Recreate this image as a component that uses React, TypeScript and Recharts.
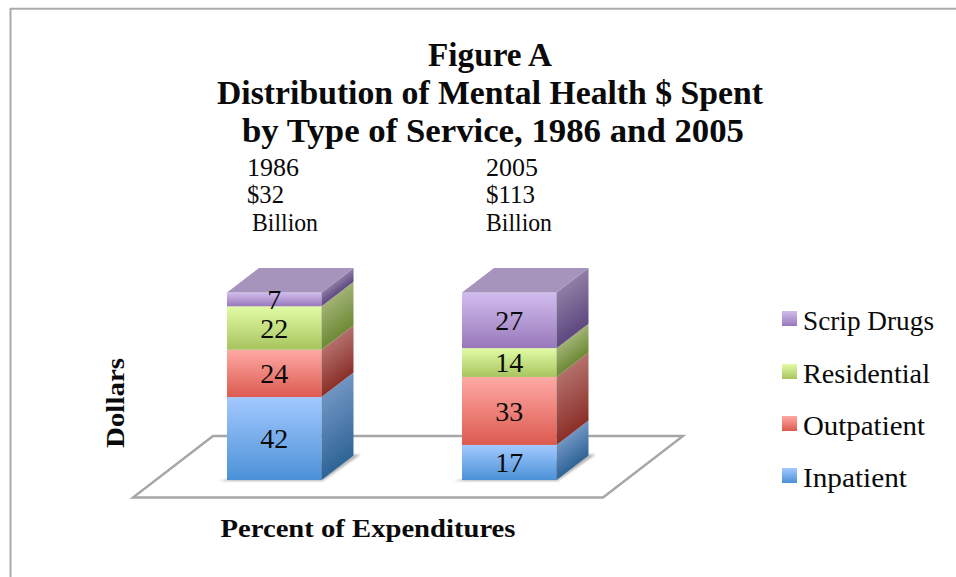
import { BarChart, Bar, XAxis, YAxis, Legend, LabelList } from 'recharts'

const years = ['1986', '2005']
const inpatient = [42, 17]
const outpatient = [24, 33]
const residential = [22, 14]
const scripDrugs = [7, 27]

const rows = years.map((year, i) => ({
  year,
  inpatient: inpatient[i],
  outpatient: outpatient[i],
  residential: residential[i],
  scripDrugs: scripDrugs[i],
}))

const SERIES = [
  { key: 'inpatient', name: 'Inpatient', front: ['#a3c9ff', '#4b91d7'], side: ['#7095c2', '#2f6497'] },
  { key: 'outpatient', name: 'Outpatient', front: ['#ffa9a5', '#dc5a4f'], side: ['#b4706c', '#8b2f28'] },
  { key: 'residential', name: 'Residential', front: ['#e1fca5', '#a8c45f'], side: ['#a1b274', '#6c8a35'] },
  { key: 'scripDrugs', name: 'Scrip Drugs', front: ['#d2bdee', '#9878ba'], side: ['#8f7ea4', '#5d4880'] },
]

const LEGEND_ORDER = [
  { i: 3, y: 311, width: 131 },
  { i: 2, y: 364, width: 127 },
  { i: 1, y: 416, width: 122 },
  { i: 0, y: 468, width: 104 },
]

const FONT = '"Liberation Serif", serif'
const DX = 32
const DY = 24.5

// front face + sheared side face, the top cap only on the last series
function Block(props: any) {
  const { x, y, width, height, seriesKey, isTop, isBottom } = props
  const b = y + height
  const right = x + width
  return (
    <g>
      {isBottom && (
        <polygon
          points={`${x - 8},${b + 1} ${right + 1},${b + 1} ${right + DX + 7},${b - DY - 1} ${right + DX},${b - DY - 1}`}
          fill="#b4b4b4"
          filter="url(#floorShadow)"
        />
      )}
      <rect x={x} y={y} width={width} height={height} fill={`url(#front-${seriesKey})`} />
      <g transform={`matrix(1 ${-DY / DX} 0 1 ${right} ${b})`}>
        <rect x={0} y={-height} width={DX} height={height} fill={`url(#side-${seriesKey})`} />
      </g>
      {isTop && (
        <polygon
          points={`${x},${y} ${right},${y} ${right + DX},${y - DY} ${x + DX},${y - DY}`}
          fill="#a694bd"
        />
      )}
    </g>
  )
}

function Txt({ x, y, w, size, bold, children, ...rest }: any) {
  return (
    <text
      x={x}
      y={y}
      fontFamily={FONT}
      fontSize={size}
      fontWeight={bold ? 700 : 400}
      fill="#0a0a0a"
      textLength={w}
      lengthAdjust="spacingAndGlyphs"
      {...rest}
    >
      {children}
    </text>
  )
}

function ChartLegend() {
  return (
    <svg width={181} height={200} style={{ display: 'block' }}>
      {LEGEND_ORDER.map(item => (
        <g key={item.i}>
          <rect x={7} y={item.y - 300} width={15} height={15} fill={`url(#front-${SERIES[item.i].key})`} />
          <Txt x={28} y={item.y - 300 + 18.5} w={item.width} size={26.5}>
            {SERIES[item.i].name}
          </Txt>
        </g>
      ))}
    </svg>
  )
}

export default function App() {
  return (
    <div style={{ position: 'absolute', left: 0, top: 0, width: 956, height: 577, background: '#fff', overflow: 'hidden' }}>
      <BarChart
        width={956}
        height={577}
        data={rows}
        stackOffset="expand"
        barSize={94.5}
        margin={{ top: 292.5, right: 148, bottom: 97, left: 157 }}
      >
        <defs>
          {SERIES.map(s => (
            <linearGradient key={`f-${s.key}`} id={`front-${s.key}`} x1="0" y1="0" x2="0" y2="1">
              <stop offset="0%" stopColor={s.front[0]} />
              <stop offset="100%" stopColor={s.front[1]} />
            </linearGradient>
          ))}
          {SERIES.map(s => (
            <linearGradient key={`s-${s.key}`} id={`side-${s.key}`} x1="0" y1="0" x2="0" y2="1">
              <stop offset="0%" stopColor={s.side[0]} />
              <stop offset="100%" stopColor={s.side[1]} />
            </linearGradient>
          ))}
          <filter id="floorShadow" x="-10%" y="-20%" width="120%" height="140%">
            <feGaussianBlur stdDeviation="1" />
          </filter>
        </defs>

        {/* outer frame, runs off the right and bottom of the picture */}
        <path d="M10.5 590 V8.7 H970" fill="none" stroke="#ababab" strokeWidth={2} />

        {/* floor */}
        <polygon points="213,436 683,436 603,497.5 133,497.5" fill="#fff" stroke="#a6a6a6" strokeWidth={2.4} />

        <XAxis dataKey="year" hide />
        <YAxis hide domain={[0, 1]} />
        <Legend
          layout="vertical"
          align="right"
          verticalAlign="top"
          content={() => <ChartLegend />}
          wrapperStyle={{ left: 775, top: 300, width: 181, height: 200 }}
        />

        {SERIES.map((s, i) => (
          <Bar
            key={s.key}
            dataKey={s.key}
            name={s.name}
            stackId="a"
            isAnimationActive={false}
            shape={(p: any) => (
              <Block {...p} seriesKey={s.key} isTop={i === SERIES.length - 1} isBottom={i === 0} />
            )}
          >
            <LabelList dataKey={s.key} position="center" fill="#0a0a0a" fontSize={28} fontFamily={FONT} />
          </Bar>
        ))}

        <Txt x={490} y={66} w={124} size={33} bold textAnchor="middle">Figure A</Txt>
        <Txt x={490} y={104} w={546} size={33} bold textAnchor="middle">Distribution of Mental Health $ Spent</Txt>
        <Txt x={493} y={142} w={502} size={33} bold textAnchor="middle">by Type of Service, 1986 and 2005</Txt>

        <Txt x={247} y={176} w={52} size={24.5}>1986</Txt>
        <Txt x={247} y={203} w={37} size={24.5}>$32</Txt>
        <Txt x={252} y={231} w={66} size={24.5}>Billion</Txt>
        <Txt x={486} y={176} w={52} size={24.5}>2005</Txt>
        <Txt x={486} y={203} w={49} size={24.5}>$113</Txt>
        <Txt x={486} y={231} w={66} size={24.5}>Billion</Txt>

        <Txt x={0} y={0} w={90} size={25} bold textAnchor="middle" transform="translate(124 403) rotate(-90)">Dollars</Txt>
        <Txt x={368} y={537} w={295} size={26} bold textAnchor="middle">Percent of Expenditures</Txt>
      </BarChart>
    </div>
  )
}
